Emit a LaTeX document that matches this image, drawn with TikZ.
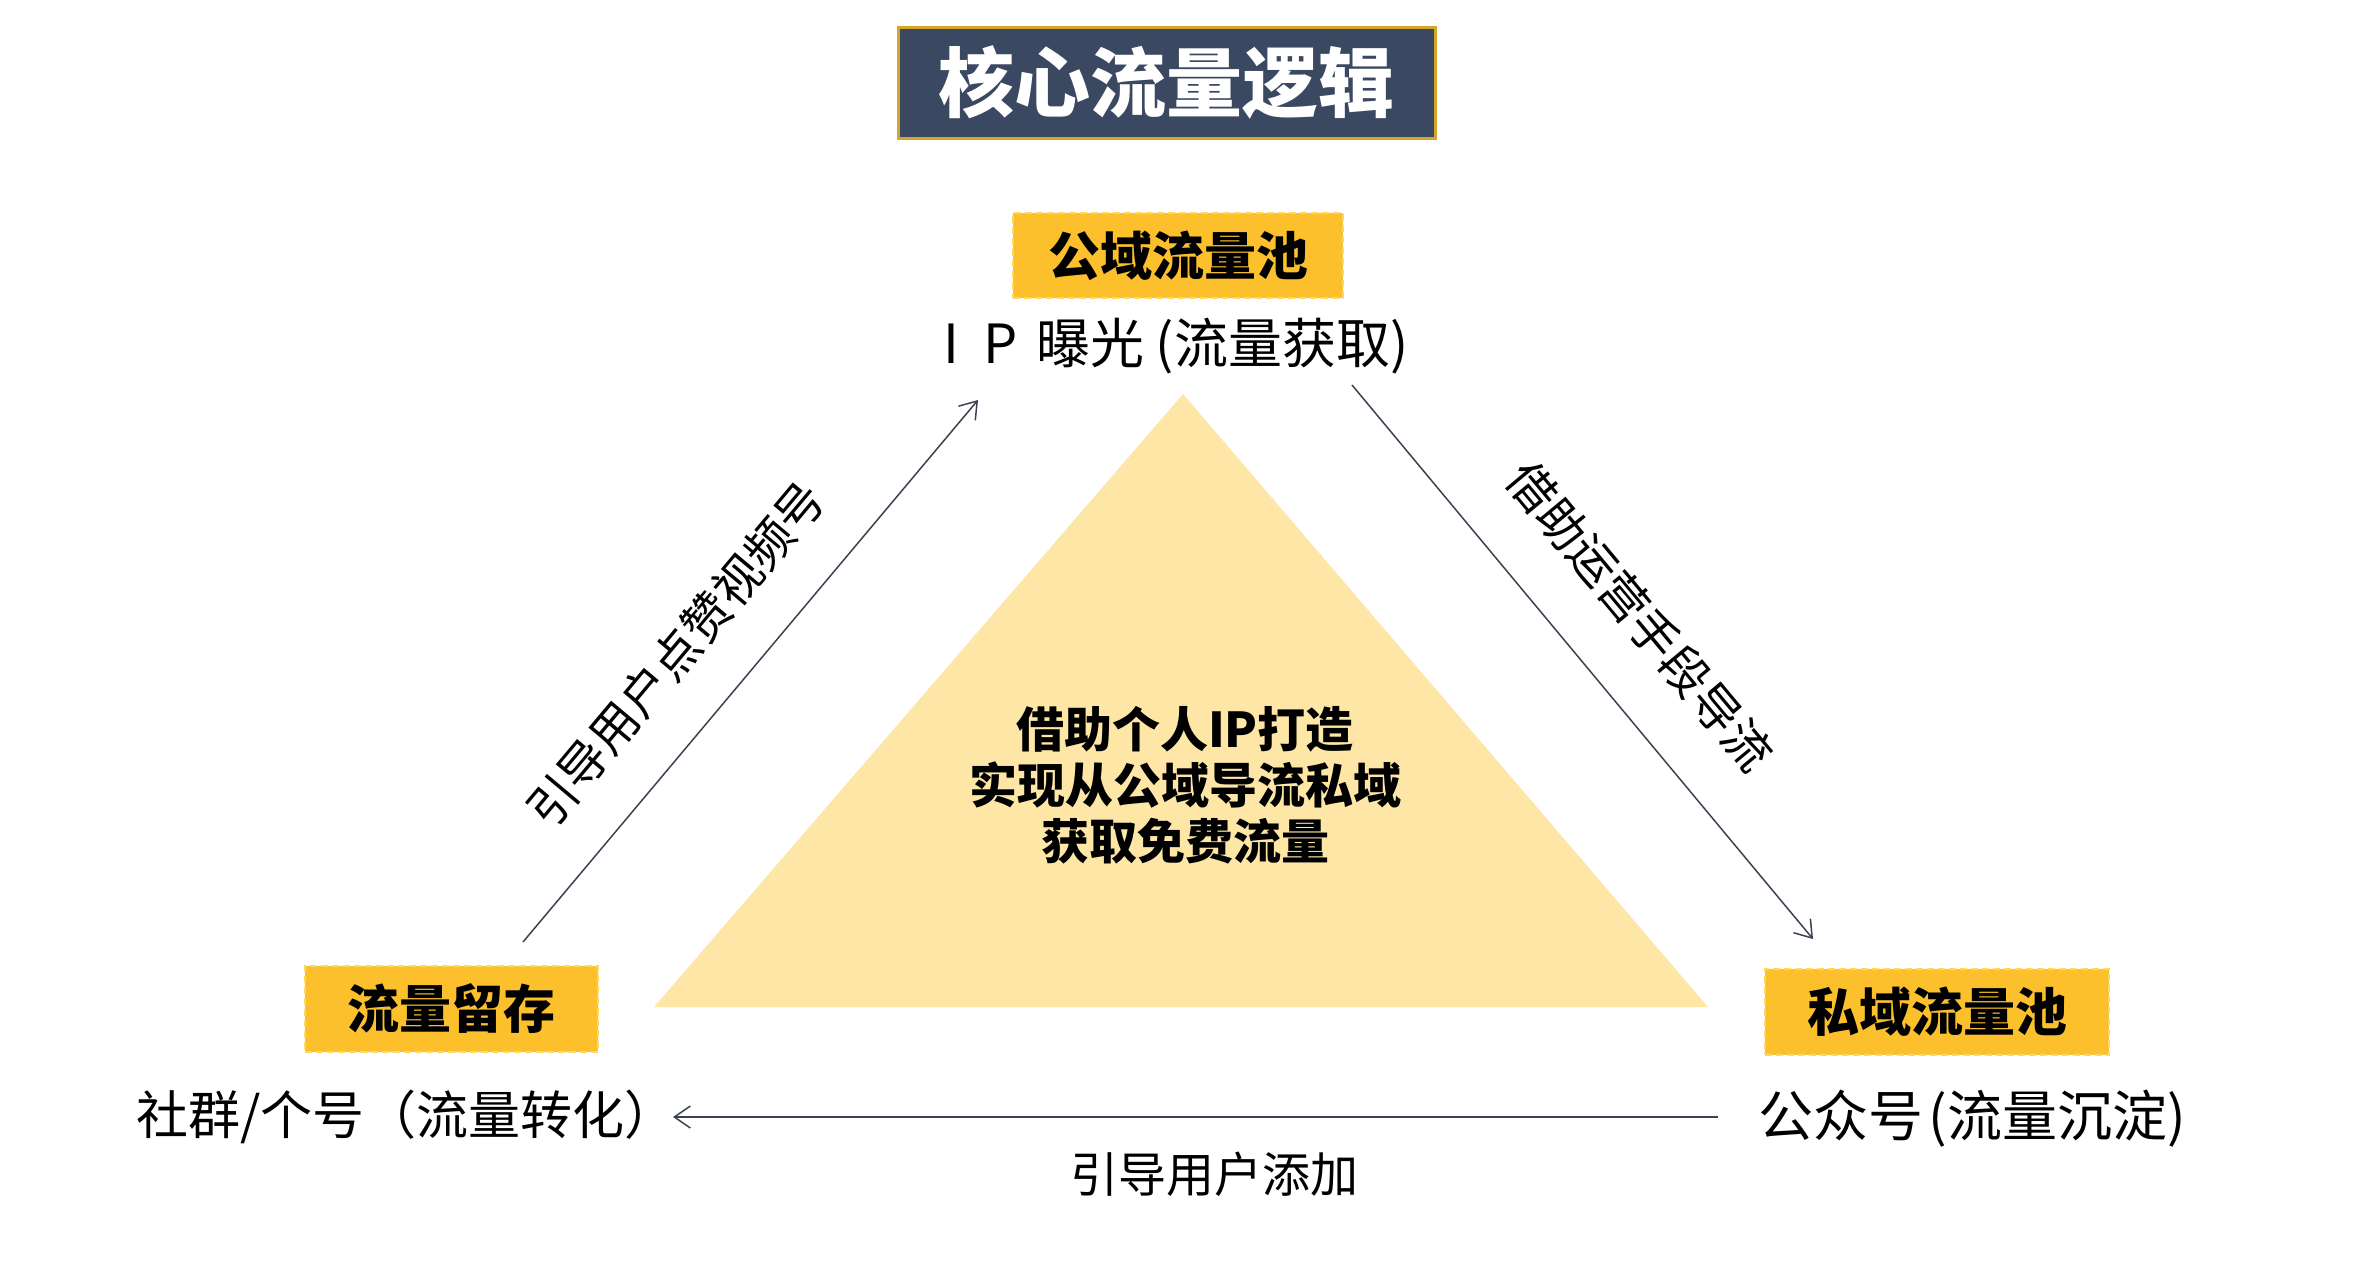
\documentclass[tikz,border=0pt]{standalone}
\usepackage{fontspec}
\setmainfont{Noto Sans CJK SC}
\usetikzlibrary{arrows.meta}
\definecolor{titlebg}{HTML}{3A4861}
\definecolor{titleborder}{HTML}{D6A62A}
\definecolor{boxfill}{HTML}{FCC02C}
\definecolor{boxdash}{HTML}{FDD862}
\definecolor{trifill}{HTML}{FDE6A6}
\definecolor{linecol}{HTML}{3C4250}
\begin{document}
\begin{tikzpicture}[x=1pt,y=-1pt,
  tagbox/.style={fill=boxfill, draw=boxdash, line width=2.5pt, dash pattern=on 7pt off 4pt,
    inner sep=0pt, font=\fontsize{52}{60}\selectfont\bfseries},
  caption/.style={font=\fontsize{52}{60}\selectfont, inner sep=0pt},
  flowlabel/.style={font=\fontsize{48}{56}\selectfont, inner sep=0pt},
  flow/.style={draw=linecol, line width=1.5pt,
    -{Straight Barb[length=16pt,width=22pt,line width=1.5pt]}},
]
\useasboundingbox[fill=white] (0,0) rectangle (2356,1282);

% title
\node[fill=titlebg, draw=titleborder, line width=3pt, minimum width=537pt,
  minimum height=111pt, inner sep=0pt, text=white,
  font=\fontsize{76}{84}\selectfont\bfseries] (title) at (1166.5,82.5) {核心流量逻辑};

% central triangle
\coordinate (tA) at (1183,394);
\coordinate (tB) at (654,1007);
\coordinate (tC) at (1708,1007);
\fill[trifill] (tA) -- (tB) -- (tC) -- cycle;

\node[align=center, inner sep=0pt, font=\fontsize{48}{56}\selectfont\bfseries]
  (core) at (1185,785) {借助个人IP打造\\实现从公域导流私域\\获取免费流量};

% tag boxes
\node[tagbox, minimum width=330pt, minimum height=85pt] (pub) at (1178,255.5) {公域流量池};
\node[caption, font=\fontsize{54}{62}\selectfont] (pubcap) at (1176,346)
  {I\hspace{0.45em}P\hspace{0.35em}曝光\hspace{0.2em}(流量获取)};

\node[tagbox, minimum width=293pt, minimum height=86pt] (keep) at (451.5,1009) {流量留存};
\node[caption, anchor=west] (keepcap) at (136,1117) {社群/个号（流量转化）};

\node[tagbox, minimum width=344pt, minimum height=86pt] (priv) at (1937,1012) {私域流量池};
\node[caption, font=\fontsize{55}{62}\selectfont] (privcap) at (1972,1119) {公众号\hspace{0.1em}(流量沉淀)};

% connectors
\coordinate (l1s) at (523,942);
\coordinate (l1e) at (978,400);
\draw[flow] (l1s) -- (l1e);
\node[flowlabel, rotate=50] (lab1) at (676,654) {引导用户点赞视频号};

\coordinate (l2s) at (1352,385);
\coordinate (l2e) at (1813,939);
\draw[flow] (l2s) -- (l2e);
\node[flowlabel, rotate=-50.2] (lab2) at (1640,616) {借助运营手段导流};

\coordinate (l3s) at (1718,1117);
\coordinate (l3e) at (673,1117);
\draw[flow] (l3s) -- (l3e);
\node[flowlabel] (lab3) at (1214,1174) {引导用户添加};
\end{tikzpicture}
\end{document}
